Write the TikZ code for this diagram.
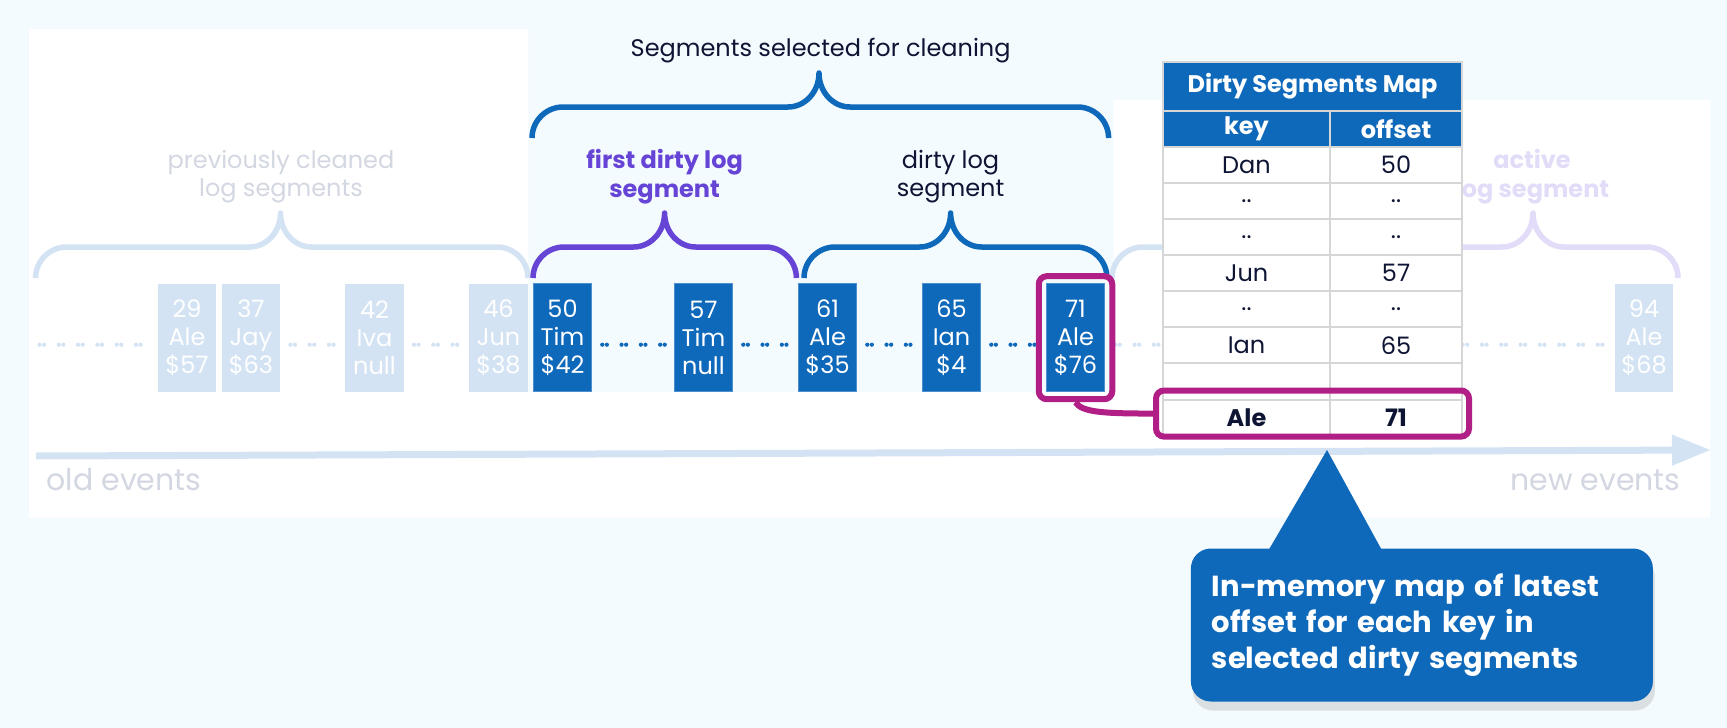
\documentclass[tikz,border=0pt]{standalone}
\usepackage{fontspec}
\setmainfont{Poppins}
\usetikzlibrary{arrows.meta, positioning, fit, shadows}

\definecolor{pagebg}{HTML}{F4FBFE}
\definecolor{lightblue}{HTML}{D4E3F3}
\definecolor{dirtyblue}{HTML}{0F69BA}
\definecolor{dirtyedge}{HTML}{4F8FD0}
\definecolor{firstpurple}{HTML}{6544D6}
\definecolor{hlmagenta}{HTML}{B01E86}
\definecolor{navy}{HTML}{0E1433}
\definecolor{fadegray}{HTML}{D3D7E1}
\definecolor{lavender}{HTML}{E2DCF8}
\definecolor{gridgray}{HTML}{D6D6D6}

% 중괄호: 스타일, 왼쪽 x, 꼭지 x, 오른쪽 x, 끝 y
\newcommand{\segbrace}[5]{%
  \draw[#1] (#2,#5) .. controls (#2,#5-17) and (#2+14,#5-31) .. (#2+31,#5-31)
    -- (#3-31,#5-31) .. controls (#3-14,#5-31) and (#3,#5-46) .. (#3,#5-65)
    .. controls (#3,#5-46) and (#3+14,#5-31) .. (#3+31,#5-31)
    -- (#4-31,#5-31) .. controls (#4-14,#5-31) and (#4,#5-17) .. (#4,#5);}

\begin{document}
\begin{tikzpicture}[
    x=1pt, y=-1pt,
    bracebase/.style={line width=5.5pt, line join=round},
    prevbrace/.style={bracebase, draw=lightblue},
    selbrace/.style={bracebase, draw=dirtyblue},
    firstbrace/.style={bracebase, draw=firstpurple},
    dirtybrace/.style={bracebase, draw=dirtyblue},
    activebrace/.style={bracebase, draw=lavender},
    lbl/.style={align=center, font=\fontsize{24}{28.7}\selectfont},
    boldlbl/.style={align=center, font=\bfseries\fontsize{24}{28.7}\selectfont},
    logbox/.style={rectangle, minimum width=58.5pt, minimum height=108pt, inner sep=0pt, align=center, text=white, font=\fontsize{24}{28}\selectfont},
    cleanbox/.style={logbox, fill=lightblue},
    dirtybox/.style={logbox, fill=dirtyblue, draw=dirtyedge, line width=1pt},
    dotsbase/.style={line width=4.2pt, line cap=round, dash pattern=on 0pt off 4.6pt on 0pt off 14.7pt, shorten <=10pt, shorten >=8pt},
    lightdots/.style={dotsbase, draw=lightblue},
    darkdots/.style={dotsbase, draw=dirtyblue},
    timeline/.style={draw=lightblue, line width=7pt, -{Triangle[length=39pt, width=29pt]}},
    eventlbl/.style={text=fadegray, font=\fontsize{30}{34}\selectfont},
    tcell/.style={rectangle, fill=white, draw=gridgray, line width=2pt, outer sep=0pt, inner sep=0pt, minimum height=36.1pt, text=navy, font=\fontsize{24}{28}\selectfont},
    keycell/.style={tcell, minimum width=167pt},
    offcell/.style={tcell, minimum width=132pt},
    headcell/.style={fill=dirtyblue, text=white, font=\bfseries\fontsize{24}{28}\selectfont},
    boldcell/.style={font=\bfseries\fontsize{24}{28}\selectfont},
    hilite/.style={draw=hlmagenta, line width=6pt, rounded corners=8pt, inner sep=0pt},
    hlink/.style={draw=hlmagenta, line width=6pt},
    notebox/.style={fill=dirtyblue, rounded corners=20pt, minimum width=462pt, minimum height=153pt, text width=420pt, align=left, text=white, font=\bfseries\fontsize{29}{36}\selectfont, drop shadow={shadow xshift=2pt, shadow yshift=-9pt, opacity=0.22}}
]
% 배경
\useasboundingbox (0,0) rectangle (1727,728);
\fill[pagebg] (0,0) rectangle (1727,728);
\fill[white] (29,29) -- (528,29) -- (528,392) -- (1113.5,392) -- (1113.5,99.5)
  -- (1710,99.5) -- (1710,517.7) -- (29,517.7) -- cycle;

% 중괄호
\segbrace{prevbrace}{35.6}{280.5}{528}{278}
\segbrace{selbrace}{532}{819}{1108.6}{138}
\segbrace{firstbrace}{533}{664.6}{796.4}{278}
\segbrace{dirtybrace}{804}{950.6}{1107}{278}
\segbrace{prevbrace}{1112}{1248}{1384}{278}
\segbrace{activebrace}{1390}{1533}{1678}{278}

% 라벨
\node[lbl, text=navy] (sellbl) at (820.6,50.7) {Segments selected for cleaning};
\node[lbl, text=fadegray] (prevlbl) at (281,176.5) {previously cleaned\\log segments};
\node[boldlbl, text=firstpurple] (firstlbl) at (664.6,176.5) {first dirty log\\segment};
\node[lbl, text=navy] (dirtylbl) at (950.6,176.5) {dirty log\\segment};
\node[boldlbl, text=lavender] (activelbl) at (1532,176.5) {active\\log segment};

% 로그 레코드
\node[cleanbox] (b29) at (187,337.7) {29\\Ale\\\$57};
\node[cleanbox] (b37) at (250.9,337.7) {37\\Jay\\\$63};
\node[cleanbox] (b42) at (374.5,337.7) {42\\Iva\\null};
\node[cleanbox] (b46) at (498.5,337.7) {46\\Jun\\\$38};
\node[dirtybox] (b50) at (562.5,337.7) {50\\Tim\\\$42};
\node[dirtybox] (b57) at (703.5,337.7) {57\\Tim\\null};
\node[dirtybox] (b61) at (827.5,337.7) {61\\Ale\\\$35};
\node[dirtybox] (b65) at (951.5,337.7) {65\\Ian\\\$4};
\node[dirtybox] (b71) at (1075.5,337.7) {71\\Ale\\\$76};
\node[cleanbox] (b94) at (1644,337.7) {94\\Ale\\\$68};

% 점선
\coordinate (dotstart) at (39.5,344.7);
\draw[lightdots, shorten <=0pt] (dotstart) -- ([yshift=-7pt]b29.west);
\draw[lightdots] ([yshift=-7pt]b37.east) -- ([yshift=-7pt]b42.west);
\draw[lightdots] ([yshift=-7pt]b42.east) -- ([yshift=-7pt]b46.west);
\draw[darkdots] ([yshift=-7pt]b50.east) -- ([yshift=-7pt]b57.west);
\draw[darkdots] ([yshift=-7pt]b57.east) -- ([yshift=-7pt]b61.west);
\draw[darkdots] ([yshift=-7pt]b61.east) -- ([yshift=-7pt]b65.west);
\draw[darkdots] ([yshift=-7pt]b65.east) -- ([yshift=-7pt]b71.west);
\draw[lightdots] ([yshift=-7pt]b71.east) -- ([yshift=-7pt]b94.west);

% 시간 축
\coordinate (tstart) at (36,456);
\coordinate (tend) at (1711,450);
\draw[timeline] (tstart) -- (tend);
\node[eventlbl, anchor=west] (oldlbl) at (43,480) {old events};
\node[eventlbl, anchor=east] (newlbl) at (1684,480) {new events};

% 맵 테이블
\node[tcell, headcell, minimum width=299pt, minimum height=49pt] (maptitle) at (1312.5,86.2) {Dirty Segments Map};
\node[keycell, headcell, below right=0pt and 0pt of maptitle.south west] (khead) {key};
\node[offcell, headcell, right=0pt of khead] (ohead) {offset};
\node[keycell, below=0pt of khead] (kdan) {Dan};
\node[offcell, right=0pt of kdan] (odan) {50};
\node[keycell, below=0pt of kdan] (kgap1) {..};
\node[offcell, right=0pt of kgap1] (ogap1) {..};
\node[keycell, below=0pt of kgap1] (kgap2) {..};
\node[offcell, right=0pt of kgap2] (ogap2) {..};
\node[keycell, below=0pt of kgap2] (kjun) {Jun};
\node[offcell, right=0pt of kjun] (ojun) {57};
\node[keycell, below=0pt of kjun] (kgap3) {..};
\node[offcell, right=0pt of kgap3] (ogap3) {..};
\node[keycell, below=0pt of kgap3] (kian) {Ian};
\node[offcell, right=0pt of kian] (oian) {65};
\node[keycell, below=0pt of kian] (kempty) {};
\node[offcell, right=0pt of kempty] (oempty) {};
\node[keycell, boldcell, below=0pt of kempty] (kale) {Ale};
\node[offcell, boldcell, right=0pt of kale] (oale) {71};

% 강조
\node[hilite, fit=(b71), inner sep=7pt] (hl71) {};
\node[hilite, fit=(kale)(oale), inner xsep=7pt, inner ysep=5pt, yshift=4pt] (hlale) {};
\draw[hlink] (hl71.south) .. controls +(6,10) and +(-50,0) .. (hlale.west);

% 설명 말풍선
\node[notebox] (note) at (1421.9,625) {In-memory map of latest\\offset for each key in\\selected dirty segments};
\coordinate (ptr) at (1327,450);
\fill[dirtyblue] ([xshift=-154pt, yshift=-3pt]note.north) -- (ptr) -- ([xshift=-39.4pt, yshift=-3pt]note.north) -- cycle;

\end{tikzpicture}
\end{document}
